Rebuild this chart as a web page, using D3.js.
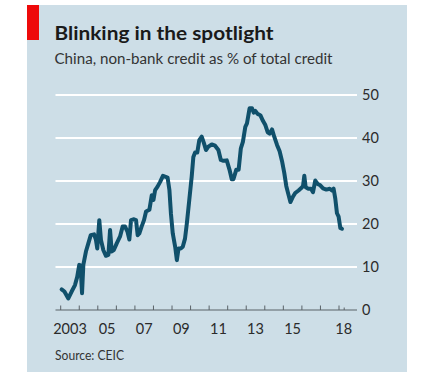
<!DOCTYPE html>
<html>
<head>
<meta charset="utf-8">
<script src="https://cdn.jsdelivr.net/npm/d3@7"></script>
<style>
  html, body { margin: 0; padding: 0; background: #ffffff; }
  svg { display: block; }
</style>
</head>
<body>
<svg id="chart" width="437" height="378"></svg>
<script>
// ---- data ----
const title = "Blinking in the spotlight";
const subtitle = "China, non-bank credit as % of total credit";
const source = "Source: CEIC";

const dates = [
  2003.05, 2003.2, 2003.41, 2003.59, 2003.77, 2003.89, 2004.0, 2004.07, 2004.15, 2004.22,
  2004.36, 2004.49, 2004.62, 2004.8, 2004.9, 2004.97, 2005.08, 2005.17, 2005.3, 2005.44,
  2005.57, 2005.66, 2005.75, 2005.87, 2006.02, 2006.2, 2006.34, 2006.47, 2006.6, 2006.7,
  2006.79, 2006.92, 2007.06, 2007.15, 2007.24, 2007.36, 2007.49, 2007.6, 2007.78, 2007.91,
  2008.0, 2008.09, 2008.22, 2008.36, 2008.51, 2008.63, 2008.76, 2008.86, 2008.94, 2009.04,
  2009.17, 2009.26, 2009.35, 2009.47, 2009.58, 2009.7, 2009.8, 2009.93, 2010.06, 2010.15,
  2010.24, 2010.36, 2010.47, 2010.6, 2010.72, 2010.83, 2010.96, 2011.14, 2011.32, 2011.5,
  2011.63, 2011.77, 2011.95, 2012.1, 2012.22, 2012.31, 2012.46, 2012.59, 2012.71, 2012.82,
  2012.95, 2013.04, 2013.18, 2013.31, 2013.4, 2013.49, 2013.61, 2013.76, 2013.9, 2014.03,
  2014.16, 2014.26, 2014.39, 2014.51, 2014.66, 2014.8, 2014.93, 2015.05, 2015.16, 2015.29,
  2015.38, 2015.5, 2015.64, 2015.82, 2015.95, 2016.06, 2016.13, 2016.2, 2016.33, 2016.49,
  2016.6, 2016.72, 2016.85, 2016.99, 2017.14, 2017.32, 2017.5, 2017.62, 2017.71, 2017.8,
  2017.89, 2017.98, 2018.07, 2018.16
];
const values = [
  4.8, 4.3, 2.7, 4.3, 5.8, 7.7, 10.5, 10.4, 3.9, 10.5,
  13.6, 15.5, 17.4, 17.6, 16.3, 14.3, 20.9, 16.3, 13.9, 12.6,
  12.8, 18.6, 13.6, 14.0, 15.5, 17.1, 19.4, 19.4, 18.2, 16.4,
  20.9, 21.1, 20.9, 17.4, 17.8, 19.4, 20.9, 22.9, 23.3, 26.7,
  25.6, 27.9, 28.7, 29.8, 31.2, 31.0, 30.8, 27.9, 22.5, 17.8,
  14.7, 11.6, 14.3, 14.3, 14.7, 16.6, 20.2, 25.6, 31.0, 35.6,
  36.6, 36.6, 39.5, 40.3, 38.8, 37.2, 38.0, 38.5, 38.2, 37.2,
  34.9, 34.7, 34.8, 32.6, 30.4, 30.4, 32.6, 32.6, 37.6, 39.1,
  42.6, 43.4, 46.9, 46.9, 45.9, 46.3, 45.6, 45.3, 44.0, 43.0,
  41.3, 41.0, 42.0, 40.3, 38.4, 36.9, 34.6, 31.9, 28.8, 26.6,
  25.1, 26.2, 27.2, 27.8, 28.3, 28.8, 31.2, 28.6, 28.2, 28.2,
  27.4, 30.1, 29.3, 29.0, 28.3, 28.0, 28.2, 27.8, 28.2, 25.9,
  22.5, 21.7, 19.1, 18.9
];

const yTicks = [0, 10, 20, 30, 40, 50];
const xTickYears = [2003, 2004, 2005, 2006, 2007, 2008, 2009, 2010, 2011, 2012, 2013, 2014, 2015, 2016, 2017, 2018, 2018.28];
const xLabelPos = [2003.5, 2005.5, 2007.5, 2009.5, 2011.5, 2013.5, 2015.5, 2018.25];
const xLabelText = ["2003", "05", "07", "09", "11", "13", "15", "18"];

// ---- layout ----
const svg = d3.select("#chart");
const bg = "#cddee7";
const lineColor = "#10506b";
const textColor = "#2b2b2b";

svg.append("rect").attr("x", 27).attr("y", 5).attr("width", 380).attr("height", 367).attr("fill", bg);
svg.append("rect").attr("x", 27).attr("y", 5).attr("width", 12).attr("height", 35).attr("fill", "#ee0a0a");

const x = d3.scaleLinear().domain([2003, 2018]).range([60.7, 339.0]);
const y = d3.scaleLinear().domain([0, 50]).range([310, 95]);
const plotLeft = 55.5, plotRight = 357;

// gridlines
svg.append("g").selectAll("line")
  .data(yTicks.filter(d => d > 0))
  .join("line")
  .attr("x1", plotLeft).attr("x2", plotRight)
  .attr("y1", d => y(d)).attr("y2", d => y(d))
  .attr("stroke", "#ffffff").attr("stroke-width", 2);

// y labels (right)
svg.append("g").selectAll("text")
  .data(yTicks)
  .join("text")
  .attr("x", 362)
  .attr("y", d => y(d))
  .attr("dy", "0.36em")
  .attr("font-family", "Lato, 'Open Sans', sans-serif")
  .attr("font-size", 14.5)
  .attr("fill", textColor)
  .text(d => d);

// line
const line = d3.line()
  .x((d, i) => x(dates[i]))
  .y((d, i) => y(values[i]))
  .curve(d3.curveLinear);

svg.append("path")
  .datum(values)
  .attr("d", line)
  .attr("fill", "none")
  .attr("stroke", lineColor)
  .attr("stroke-width", 4)
  .attr("stroke-linejoin", "round")
  .attr("stroke-linecap", "round");

// x axis line
svg.append("line")
  .attr("x1", plotLeft).attr("x2", plotRight)
  .attr("y1", y(0)).attr("y2", y(0))
  .attr("stroke", "#5a6268").attr("stroke-width", 1.2);

// x ticks (pointing up)
svg.append("g").selectAll("line")
  .data(xTickYears)
  .join("line")
  .attr("x1", d => x(d)).attr("x2", d => x(d))
  .attr("y1", y(0)).attr("y2", (d, i) => y(0) - (i === xTickYears.length - 1 ? 2.5 : 4.5))
  .attr("stroke", "#5a6268").attr("stroke-width", 1);

// x labels
svg.append("g").selectAll("text")
  .data(xLabelPos)
  .join("text")
  .attr("x", d => x(d))
  .attr("y", 334)
  .attr("text-anchor", "middle")
  .attr("font-family", "Lato, 'Open Sans', sans-serif")
  .attr("font-size", 14.5)
  .attr("fill", textColor)
  .text((d, i) => xLabelText[i]);

// title & subtitle
svg.append("text")
  .attr("x", 54.5).attr("y", 40)
  .attr("font-family", "Lato, 'Open Sans', sans-serif")
  .attr("font-weight", "bold")
  .attr("font-size", 19.5)
  .attr("fill", "#1a1a1a")
  .attr("textLength", 219)
  .attr("lengthAdjust", "spacingAndGlyphs")
  .text(title);

svg.append("text")
  .attr("x", 54.5).attr("y", 64)
  .attr("font-family", "Lato, 'Open Sans', sans-serif")
  .attr("font-size", 14.5)
  .attr("fill", "#333333")
  .attr("textLength", 278)
  .attr("lengthAdjust", "spacingAndGlyphs")
  .text(subtitle);

svg.append("text")
  .attr("x", 55).attr("y", 360)
  .attr("font-family", "Lato, 'Open Sans', sans-serif")
  .attr("font-size", 12.5)
  .attr("fill", "#333333")
  .attr("textLength", 69)
  .attr("lengthAdjust", "spacingAndGlyphs")
  .text(source);
</script>
</body>
</html>
